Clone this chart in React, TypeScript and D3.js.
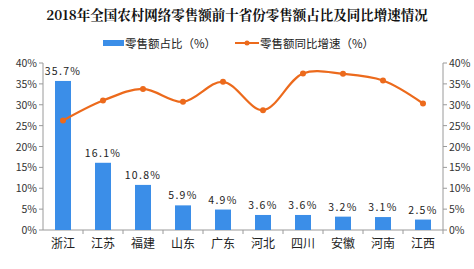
import React from "react";
import * as d3 from "d3";

const categories = ["浙江", "江苏", "福建", "山东", "广东", "河北", "四川", "安徽", "河南", "江西"];
const shareValues = [35.7, 16.1, 10.8, 5.9, 4.9, 3.6, 3.6, 3.2, 3.1, 2.5];
const growthValues = [26.2, 31.0, 33.8, 30.7, 35.5, 28.7, 37.5, 37.4, 35.8, 30.3];
const yTicks = [0, 5, 10, 15, 20, 25, 30, 35, 40];
const title = "2018年全国农村网络零售额前十省份零售额占比及同比增速情况";
const legendBar = "零售额占比（%）";
const legendLine = "零售额同比增速（%）";

const W = 474, H = 269;
const left = 43, right = 443, top = 63, bottom = 230;
const BLUE = "#3b8ee8";
const ORANGE = "#ec6a1c";
const AXIS = "#9a9a9a";
const FONT = "'Noto Sans CJK SC', 'DejaVu Sans', sans-serif";

export default function App() {
  const x = d3.scaleBand<string>().domain(categories).range([left, right]).paddingInner(0.6).paddingOuter(0.3);
  const xb = d3.scaleBand<string>().domain(categories).range([left, right]);
  const y = d3.scaleLinear().domain([0, 40]).range([bottom, top]);
  const line = d3
    .line<number>()
    .x((_, i) => (xb(categories[i]) as number) + xb.bandwidth() / 2)
    .y((d) => y(d))
    .curve(d3.curveCatmullRom.alpha(0.5));

  return (
    <svg width={W} height={H} style={{ position: "absolute", left: 0, top: 0, background: "#fff" }} fontFamily={FONT}>
      <rect width={W} height={H} fill="#fff" />
      <text x={237} y={20} textAnchor="middle" fontSize={13.5} fontWeight="bold" fill="#111" fontFamily="'Noto Serif CJK SC', 'Noto Sans CJK SC', serif">
        {title}
      </text>
      {/* legend */}
      <rect x={103} y={40} width={21} height={6} fill={BLUE} />
      <text x={125} y={47.5} fontSize={11.5} fill="#222">{legendBar}</text>
      <line x1={235} x2={259} y1={43} y2={43} stroke={ORANGE} strokeWidth={2} />
      <circle cx={247} cy={43} r={2.5} fill={ORANGE} />
      <text x={260} y={47.5} fontSize={11.5} fill="#222">{legendLine}</text>

      {/* left axis */}
      <line x1={left} x2={left} y1={top} y2={bottom} stroke={AXIS} />
      {yTicks.map((t) => (
        <g key={"l" + t}>
          <line x1={left - 4} x2={left} y1={y(t)} y2={y(t)} stroke={AXIS} />
          <text x={left - 6} y={y(t) + 4} textAnchor="end" fontSize={10.5} fill="#333">{t + "%"}</text>
        </g>
      ))}
      {/* right axis */}
      <line x1={right} x2={right} y1={top} y2={bottom} stroke={AXIS} />
      {yTicks.map((t) => (
        <g key={"r" + t}>
          <line x1={right} x2={right + 4} y1={y(t)} y2={y(t)} stroke={AXIS} />
          <text x={right + 6} y={y(t) + 4} textAnchor="start" fontSize={10.5} fill="#333">{t + "%"}</text>
        </g>
      ))}
      {/* x axis */}
      <line x1={left} x2={right} y1={bottom} y2={bottom} stroke={AXIS} />
      {categories.map((c) => (
        <line key={"xt" + c} x1={(xb(c) as number) + xb.bandwidth()} x2={(xb(c) as number) + xb.bandwidth()} y1={bottom} y2={bottom + 4} stroke={AXIS} />
      ))}
      {categories.map((c) => (
        <text key={"xl" + c} x={(xb(c) as number) + xb.bandwidth() / 2} y={248} textAnchor="middle" fontSize={12} fill="#222">{c}</text>
      ))}

      {/* bars */}
      {categories.map((c, i) => (
        <g key={"b" + c}>
          <rect x={x(c)} y={y(shareValues[i])} width={x.bandwidth()} height={bottom - y(shareValues[i])} fill={BLUE} />
          <text x={(xb(c) as number) + xb.bandwidth() / 2} y={y(shareValues[i]) - 6} textAnchor="middle" fontSize={10.5} letterSpacing={1.3} fill="#222">
            {shareValues[i].toFixed(1) + "%"}
          </text>
        </g>
      ))}

      {/* line */}
      <path d={line(growthValues) as string} fill="none" stroke={ORANGE} strokeWidth={2.2} />
      {growthValues.map((v, i) => (
        <circle key={"p" + i} cx={(xb(categories[i]) as number) + xb.bandwidth() / 2} cy={y(v)} r={3} fill={ORANGE} />
      ))}
    </svg>
  );
}
